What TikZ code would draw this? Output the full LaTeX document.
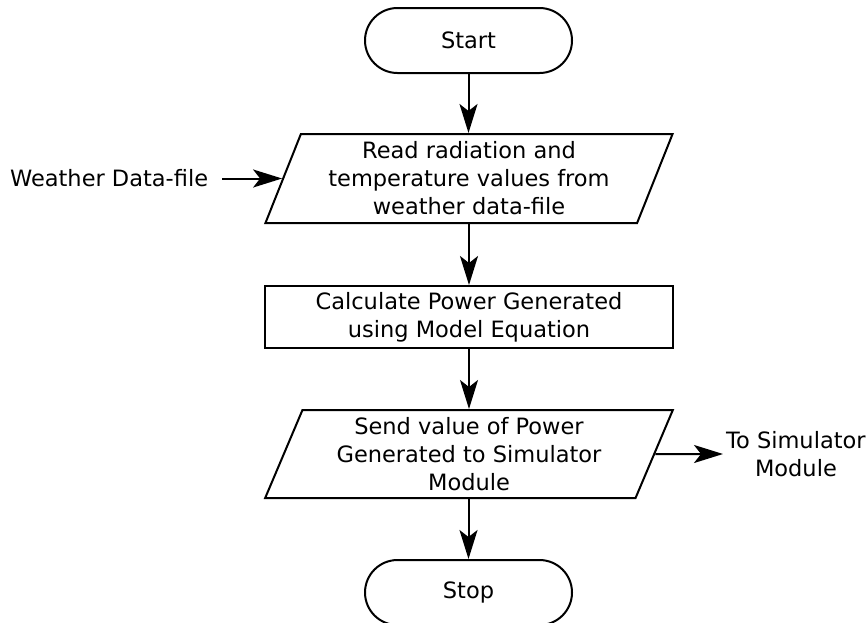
\documentclass[tikz,border=0pt]{standalone}
\usepackage{fontspec}
\setmainfont{DejaVu Sans}
\usetikzlibrary{shapes.geometric,shapes.misc,arrows.meta,positioning}

\begin{document}
\begin{tikzpicture}[x=1pt,y=-1pt,
  every node/.style={font=\fontsize{22.5}{28}\selectfont, align=center},
  flow/.style={line width=2pt},
  terminal/.style={flow, draw, rounded rectangle, minimum width=207pt, minimum height=65pt, inner sep=0pt},
  process/.style={flow, draw, rectangle, minimum width=408pt, minimum height=62pt, inner sep=0pt},
  iobox/.style={flow, draw, trapezium, trapezium left angle=68, trapezium right angle=112,
    trapezium stretches=true, minimum width=408pt, inner sep=0pt},
  link/.style={flow, -{Stealth[length=29pt, width=18pt, inset=7pt]}},
  note/.style={inner sep=2pt}
]
\useasboundingbox (0,0) rectangle (867,622);

\node[terminal] (start) at (468.5,40.5) {Start};
\node[iobox, minimum height=89pt] (read) at (469,178.5)
  {Read radiation and\\temperature values from\\weather data-file};
\node[process] (calc) at (469,317) {Calculate Power Generated\\using Model Equation};
\node[iobox, minimum height=88pt] (send) at (469,454)
  {Send value of Power\\Generated to Simulator\\Module};
\node[terminal] (stop) at (468.5,592.5) {Stop};

\node[note, left=60pt of read.west, inner sep=0pt, outer sep=0pt, anchor=east, xshift=-14pt] (weather) {Weather Data-file};
\node[note, anchor=west, inner sep=3pt] (sim) at (723,454) {To Simulator\\Module};

\draw[link] (start.south) -- (start.south |- read.north);
\draw[link] (read.south -| calc.north) -- (calc.north);
\draw[link] (calc.south) -- (calc.south |- send.north);
\draw[link] (send.south -| stop.north) -- (stop.north);
\draw[link] ([xshift=14pt]weather.east) -- (read.west);
\draw[link] (send.east) -- (sim.west);
\end{tikzpicture}
\end{document}
